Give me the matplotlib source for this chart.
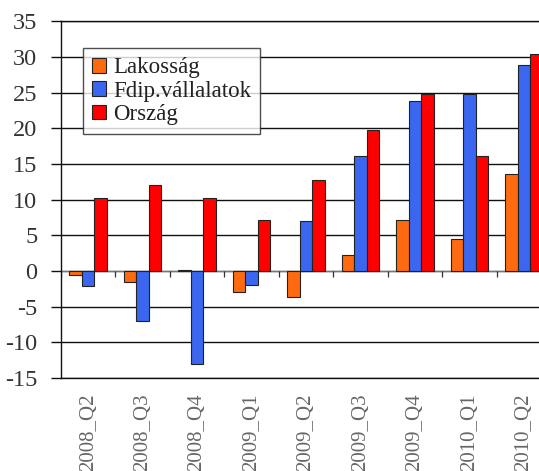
import matplotlib
matplotlib.use("Agg")
import matplotlib.pyplot as plt
import numpy as np

# quarterly growth, %
quarters = ["2008_Q2", "2008_Q3", "2008_Q4", "2009_Q1", "2009_Q2",
            "2009_Q3", "2009_Q4", "2010_Q1", "2010_Q2"]
lakossag = [-0.5, -1.5, 0.2, -2.9, -3.6, 2.2, 7.2, 4.5, 13.6]
vallalatok = [-2.1, -7.0, -13.0, -2.0, 7.0, 16.1, 23.8, 24.8, 28.9]
orszag = [10.2, 12.0, 10.2, 7.2, 12.7, 19.8, 24.8, 16.1, 30.4]

series = [("Lakosság", lakossag, "#ff6a10"),
          ("Fdip.vállalatok", vallalatok, "#3a66f0"),
          ("Ország", orszag, "#ff0000")]

plt.rcParams["font.family"] = ["Liberation Serif", "DejaVu Serif"]

fig = plt.figure(figsize=(5.39, 4.71), dpi=100)
ax = fig.add_axes([61 / 539, 93 / 471, 490 / 539, 356.6 / 471])

x = np.arange(len(quarters))
w = 0.23
for i, (name, vals, col) in enumerate(series):
    ax.bar(x + (i - 1) * w, vals, width=w, color=col, edgecolor="#222222",
           linewidth=0.8, label=name, zorder=3)

ax.set_xlim(-0.5, len(quarters) - 0.5)
ax.set_ylim(-15, 35)
ax.set_yticks(range(-15, 36, 5))
ax.set_yticklabels([str(v) for v in range(-15, 36, 5)])
ax.yaxis.grid(True, color="#111111", linewidth=1.0, zorder=0)
ax.set_axisbelow(True)

# zero line with small category separators
ax.axhline(0, color="#777777", linewidth=0.8, zorder=2)
ax.vlines(np.arange(len(quarters) + 1) - 0.5, -0.8, 0, color="#333333",
          linewidth=0.9, zorder=2)

ax.set_xticks(x)
ax.set_xticklabels(quarters, rotation=90, fontsize=15, color="#666666")
ax.tick_params(axis="x", length=0, pad=11)
ax.tick_params(axis="y", length=7, width=1.0, color="#111111", pad=10,
               labelsize=17.5, labelcolor="#333333")

for s in ("left", "top", "bottom"):
    ax.spines[s].set_color("#111111")
    ax.spines[s].set_linewidth(1.0)
ax.spines["right"].set_visible(False)

leg = ax.legend(loc="upper left", bbox_to_anchor=(0.045, 0.925), fontsize=16.5,
                frameon=True, fancybox=False, edgecolor="#222222",
                handlelength=0.6, handleheight=0.6, handletextpad=0.3,
                labelspacing=0.1, borderpad=0.4, borderaxespad=0)
leg.get_frame().set_linewidth(1.0)
leg.set_zorder(5)
for t in leg.get_texts():
    t.set_color("#222222")

fig.savefig("out.png", dpi=100)
